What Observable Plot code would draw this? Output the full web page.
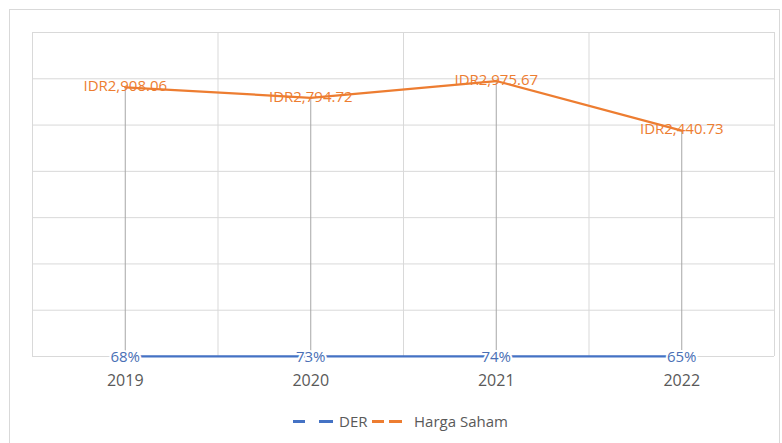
<!DOCTYPE html>
<html>
<head>
<meta charset="utf-8">
<script src="https://cdn.jsdelivr.net/npm/d3@7"></script>
<script src="https://cdn.jsdelivr.net/npm/@observablehq/plot@0.6"></script>
<style>
  html, body { margin: 0; padding: 0; background: #fff; }
  #wrap { position: relative; width: 782px; height: 443px; overflow: hidden; background: #fff; font-family: "Open Sans", sans-serif; }
  #frame { position: absolute; left: 9px; top: 9px; width: 771px; height: 450px; border: 1px solid #d9d9d9; box-sizing: border-box; }
  #chart { position: absolute; left: 0; top: 0; }
  #legend { position: absolute; left: 0; top: 411px; width: 782px; height: 20px; font-size: 15px; color: #595959; }
  .item { position: absolute; top: 0; line-height: 20px; white-space: nowrap; }
  .dash { position: absolute; top: 9px; height: 2.5px; }
</style>
</head>
<body>
<div id="wrap">
  <div id="frame"></div>
  <div id="chart"></div>
  <div id="legend"></div>
</div>
<script>
const years = ["2019", "2020", "2021", "2022"];
const derValues = [0.68, 0.73, 0.74, 0.65];
const hargaValues = [2908.06, 2794.72, 2975.67, 2440.73];
const yTicks = [0, 500, 1000, 1500, 2000, 2500, 3000, 3500];
const seriesNames = ["DER", "Harga Saham"];
const colors = { DER: "#4472C4", "Harga Saham": "#ED7D31" };

const rows = years.map((y, i) => ({ year: y, pos: i + 0.5, der: derValues[i], harga: hargaValues[i] }));
const bounds = d3.range(years.length + 1);

const fmtIDR = v => "IDR" + d3.format(",.2f")(v);
const fmtPct = v => d3.format(".0%")(v);

const chart = Plot.plot({
  width: 782,
  height: 400,
  marginLeft: 32,
  marginRight: 8,
  marginTop: 32,
  marginBottom: 44,
  style: { fontFamily: "Open Sans, sans-serif", background: "transparent", overflow: "visible" },
  x: { domain: [0, years.length], axis: null },
  y: { domain: [0, 3500], axis: null },
  marks: [
    Plot.ruleY(yTicks, { stroke: "#d9d9d9", strokeWidth: 1 }),
    Plot.ruleX(bounds, { stroke: "#d9d9d9", strokeWidth: 1 }),
    Plot.ruleX(rows, { x: "pos", y1: "der", y2: "harga", stroke: "#a6a6a6", strokeWidth: 1 }),
    Plot.lineY(rows, { x: "pos", y: "der", stroke: colors.DER, strokeWidth: 2.25 }),
    Plot.lineY(rows, { x: "pos", y: "harga", stroke: colors["Harga Saham"], strokeWidth: 2.25 }),
    Plot.text(rows, { x: "pos", y: "harga", text: d => fmtIDR(d.harga), fill: colors["Harga Saham"], fontSize: 15, dy: -1 }),
    Plot.text(rows, { x: "pos", y: "der", text: d => fmtPct(d.der), fill: "#4a6fb5", stroke: "white", strokeWidth: 4, paintOrder: "stroke", fontSize: 15, dy: 1 }),
    Plot.text(rows, { x: "pos", y: 0, text: "year", fill: "#595959", fontSize: 16, dy: 24 })
  ]
});
document.getElementById("chart").appendChild(chart);

// legend
const legend = document.getElementById("legend");
const legendLayout = [
  { name: seriesNames[0], d1: [293, 305], d2: [319, 333], tx: 339 },
  { name: seriesNames[1], d1: [372, 384], d2: [389, 402], tx: 414 }
];
legendLayout.forEach(l => {
  [l.d1, l.d2].forEach(([a, b]) => {
    const s = document.createElement("div");
    s.className = "dash";
    s.style.left = a + "px";
    s.style.width = (b - a) + "px";
    s.style.background = colors[l.name];
    legend.appendChild(s);
  });
  const t = document.createElement("div");
  t.className = "item";
  t.style.left = l.tx + "px";
  t.textContent = l.name;
  legend.appendChild(t);
});
</script>
</body>
</html>
